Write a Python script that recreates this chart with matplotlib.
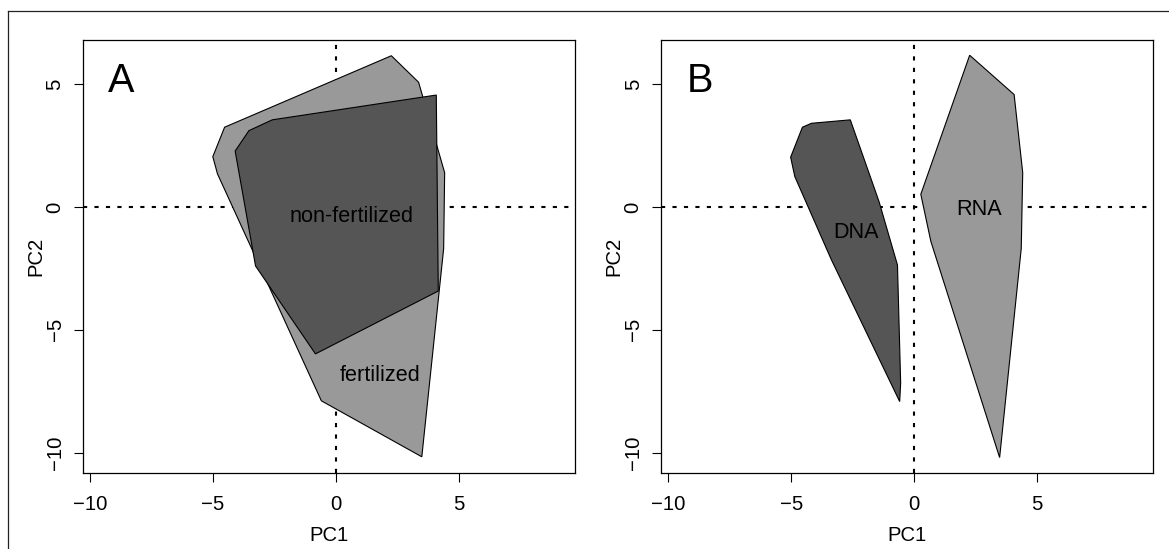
import matplotlib
matplotlib.use("Agg")
import matplotlib.pyplot as plt
from matplotlib.patches import Polygon
from matplotlib.lines import Line2D

plt.rcParams['font.family'] = ['Liberation Sans', 'DejaVu Sans']

# hull vertices (PC1, PC2)
fert_x = [2.26, 3.37, 4.43, 4.39, 3.50, -0.59, -4.82, -5.01, -4.53]
fert_y = [6.16, 5.08, 1.40, -1.69, -10.17, -7.89, 1.35, 2.05, 3.25]

nonfert_x = [4.09, 4.17, -0.83, -3.27, -4.10, -3.54, -2.59]
nonfert_y = [4.56, -3.42, -5.98, -2.40, 2.28, 3.11, 3.55]

dna_x = [-2.59, -1.42, -0.67, -0.54, -0.58, -3.36, -4.85, -5.02, -4.54, -4.17]
dna_y = [3.55, 0.22, -2.36, -7.17, -7.92, -2.15, 1.24, 2.03, 3.25, 3.41]

rna_x = [2.27, 4.08, 4.43, 4.37, 3.49, 0.69, 0.28]
rna_y = [6.18, 4.58, 1.40, -1.69, -10.20, -1.40, 0.52]

ticks = [-10, -5, 0, 5]

DARK = '#555555'
LIGHT = '#999999'


def hull(ax, xs, ys, color):
    ax.add_patch(Polygon(list(zip(xs, ys)), closed=True, facecolor=color,
                         edgecolor='black', linewidth=0.8, zorder=3))


def setup(ax):
    ax.set_xlim(-10.31, 9.72)
    ax.set_ylim(-10.83, 6.80)
    ax.axhline(0, color='black', lw=1.5, linestyle=(0, (2.0, 3.5)), zorder=1)
    ax.axvline(0, color='black', lw=1.5, linestyle=(0, (2.0, 3.5)), zorder=1)
    ax.set_xticks(ticks)
    ax.set_yticks(ticks)
    ax.set_xticklabels(['\u221210', '\u22125', '0', '5'])
    ax.set_yticklabels(['\u221210', '\u22125', '0', '5'], rotation=90, va='center')
    ax.tick_params(axis='x', length=6.5, width=0.8, pad=9, labelsize=14.6)
    ax.tick_params(axis='y', length=6.5, width=0.8, pad=6.5, labelsize=14.6)
    for s in ax.spines.values():
        s.set_linewidth(0.9)
    ax.set_xlabel('PC1', fontsize=14.6)
    ax.set_ylabel('PC2', fontsize=14.6)
    ax.xaxis.set_label_coords(0.5, -0.122)
    ax.yaxis.set_label_coords(-0.075, 0.5)


fig = plt.figure(figsize=(11.69, 5.49), dpi=100)
axA = fig.add_axes([0.0707, 0.1384, 0.4208, 0.7887])
axB = fig.add_axes([0.5652, 0.1384, 0.4208, 0.7887])

# panel A
setup(axA)
hull(axA, fert_x, fert_y, LIGHT)
hull(axA, nonfert_x, nonfert_y, DARK)
axA.text(-8.74, 4.67, 'A', fontsize=28.5, ha='center', va='baseline')
axA.text(0.64, -0.59, 'non-fertilized', fontsize=15.6, ha='center', va='baseline', zorder=5)
axA.text(1.79, -7.07, 'fertilized', fontsize=15.6, ha='center', va='baseline', zorder=5)

# panel B
setup(axB)
hull(axB, dna_x, dna_y, DARK)
hull(axB, rna_x, rna_y, LIGHT)
axB.text(-8.73, 4.67, 'B', fontsize=28.5, ha='center', va='baseline')
axB.text(-2.37, -1.27, 'DNA', fontsize=15.6, ha='center', va='baseline', zorder=5)
axB.text(2.64, -0.32, 'RNA', fontsize=15.6, ha='center', va='baseline', zorder=5)

# frame around the figure (only top and left edges show in the crop)
top = 1 - 10.7 / 549
left = 8.3 / 1169
fig.add_artist(Line2D([left, 1], [top, top], color='#222222', lw=0.9))
fig.add_artist(Line2D([left, left], [0, top], color='#222222', lw=0.9))

fig.savefig('out.png', dpi=100)
